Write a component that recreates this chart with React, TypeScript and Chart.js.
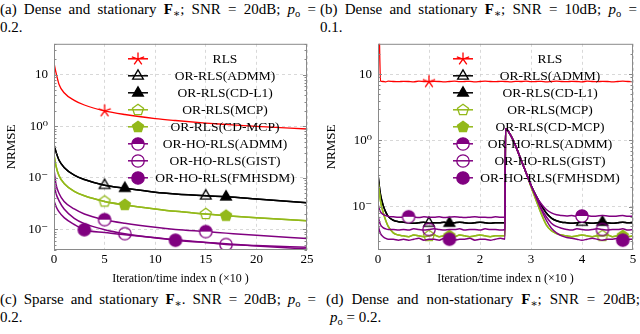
import React, { useEffect, useRef } from "react";
import { Chart, registerables } from "chart.js";
Chart.register(...registerables);

const FONT = "'Liberation Serif', 'DejaVu Serif', serif";

const seriesNames = [
  "RLS",
  "OR-RLS(ADMM)",
  "OR-RLS(CD-L1)",
  "OR-RLS(MCP)",
  "OR-RLS(CD-MCP)",
  "OR-HO-RLS(ADMM)",
  "OR-HO-RLS(GIST)",
  "OR-HO-RLS(FMHSDM)",
];
const seriesColors = ["#ff0000", "#000000", "#000000", "#93b91a", "#93b91a", "#800080", "#800080", "#800080"];
const markerKinds = ["star", "triangleOpen", "triangle", "pentagonOpen", "pentagon", "circleHalf", "circleOpen", "circle"];

// ---------- panel (a): dense and stationary, SNR 20dB ----------
const xA = [0, 0.2, 0.5, 1, 2, 3, 5, 7, 10, 12, 15, 17, 20, 25];
const xTicksStepA = 5;
const yTicksA = [0.01, 0.1, 1, 10];
const yLabelsA = ["10⁻", "10⁻", "10⁰", "10"];
const aRLS = [17, 11, 6.5, 4.5, 3.2, 2.6, 2.0, 1.7, 1.42, 1.3, 1.16, 1.09, 1.0, 0.89];
const aAdmm = [0.44, 0.32, 0.22, 0.16, 0.113, 0.093, 0.072, 0.063, 0.053, 0.049, 0.045, 0.043, 0.039, 0.033];
const aCdl1 = [0.44, 0.32, 0.22, 0.16, 0.113, 0.093, 0.072, 0.063, 0.053, 0.049, 0.045, 0.043, 0.039, 0.033];
const aMcp = [0.28, 0.17, 0.11, 0.078, 0.055, 0.045, 0.035, 0.03, 0.025, 0.0225, 0.02, 0.0185, 0.0168, 0.0148];
const aCdMcp = [0.28, 0.17, 0.11, 0.078, 0.055, 0.045, 0.035, 0.03, 0.025, 0.0225, 0.02, 0.0185, 0.0168, 0.0148];
const aHoAdmm = [0.146, 0.075, 0.05, 0.035, 0.025, 0.02, 0.0155, 0.0132, 0.011, 0.01, 0.0091, 0.0085, 0.0077, 0.0067];
const aGist = [0.079, 0.05, 0.036, 0.025, 0.0165, 0.013, 0.0099, 0.0083, 0.0069, 0.0063, 0.0056, 0.0051, 0.0049, 0.0045];
const aFmhsdm = [0.036, 0.028, 0.022, 0.017, 0.0125, 0.0099, 0.0087, 0.0079, 0.0069, 0.0062, 0.0056, 0.0053, 0.0048, 0.0042];
const aMarkers = [[5], [5, 15], [7, 17], [5, 15], [7, 17], [5, 15], [7, 17], [3, 12]];

// ---------- panel (b): dense and stationary, SNR 10dB ----------
const xB = [
  0, 0.02, 0.05, 0.1, 0.15, 0.2, 0.3, 0.4,
  0.5, 0.6, 0.7, 0.8, 0.9, 1.0, 1.1, 1.2, 1.3, 1.4,
  1.5, 1.6, 1.7, 1.8, 1.9, 2.0, 2.1, 2.2, 2.3, 2.4,
  2.49,
  2.5, 2.6, 2.7, 2.8, 2.9, 3.0, 3.1, 3.2, 3.3, 3.4, 3.5, 3.6, 3.7,
  3.8, 3.9, 4.0, 4.1, 4.2, 4.3, 4.4, 4.5, 4.6, 4.7, 4.8, 4.9, 5.0,
];
const xTicksStepB = 1;
const yTicksB = [0.1, 1, 10];
const yLabelsB = ["10⁻", "10⁰", "10"];
const bRLS = [
  100, 60, 7.9, 7.8, 7.7, 7.9, 7.8, 7.75,
  7.85, 7.8, 7.7, 7.9, 7.8, 7.75, 7.85, 7.8, 7.7, 7.8,
  7.9, 7.75, 7.8, 7.85, 7.7, 7.8, 7.9, 7.8, 7.75, 7.85,
  7.8,
  7.8, 7.7, 7.85, 7.8, 7.9, 7.75, 7.8, 7.85, 7.7, 7.8, 7.9, 7.8, 7.75,
  7.85, 7.8, 7.7, 7.9, 7.8, 7.75, 7.85, 7.8, 7.7, 7.8, 7.9, 7.8, 7.75,
];
const bAdmm = [
  0.31, 0.22, 0.15, 0.105, 0.083, 0.071, 0.062, 0.059,
  0.058, 0.057, 0.056, 0.057, 0.058, 0.056, 0.057, 0.057, 0.058, 0.056,
  0.057, 0.058, 0.057, 0.056, 0.057, 0.058, 0.057, 0.056, 0.057, 0.057,
  0.057,
  1.5, 1.2, 0.82, 0.52, 0.33, 0.21, 0.145, 0.105, 0.08, 0.067, 0.061, 0.058, 0.057,
  0.056, 0.057, 0.058, 0.057, 0.056, 0.057, 0.058, 0.057, 0.056, 0.057, 0.058, 0.057, 0.057,
];
const bCdl1 = [
  0.31, 0.22, 0.15, 0.105, 0.083, 0.071, 0.062, 0.059,
  0.058, 0.057, 0.056, 0.057, 0.058, 0.056, 0.057, 0.057, 0.058, 0.056,
  0.057, 0.058, 0.057, 0.056, 0.057, 0.058, 0.057, 0.056, 0.057, 0.057,
  0.057,
  1.5, 1.2, 0.82, 0.52, 0.33, 0.21, 0.145, 0.105, 0.08, 0.067, 0.061, 0.058, 0.057,
  0.056, 0.057, 0.058, 0.057, 0.056, 0.057, 0.058, 0.057, 0.056, 0.057, 0.058, 0.057, 0.057,
];
const bMcp = [
  0.25, 0.18, 0.12, 0.082, 0.062, 0.05, 0.04, 0.037,
  0.036, 0.035, 0.037, 0.036, 0.035, 0.036, 0.037, 0.035, 0.036, 0.036,
  0.035, 0.037, 0.036, 0.035, 0.036, 0.037, 0.036, 0.035, 0.036, 0.036,
  0.036,
  1.5, 1.2, 0.82, 0.52, 0.33, 0.2, 0.125, 0.078, 0.053, 0.043, 0.039, 0.037, 0.036,
  0.035, 0.036, 0.037, 0.036, 0.035, 0.036, 0.036, 0.037, 0.035, 0.036, 0.036, 0.035, 0.036,
];
const bCdMcp = [
  0.25, 0.18, 0.12, 0.082, 0.062, 0.05, 0.04, 0.037,
  0.036, 0.035, 0.037, 0.036, 0.035, 0.036, 0.037, 0.035, 0.036, 0.036,
  0.035, 0.037, 0.036, 0.035, 0.036, 0.037, 0.036, 0.035, 0.036, 0.036,
  0.036,
  1.5, 1.2, 0.82, 0.52, 0.33, 0.2, 0.125, 0.078, 0.053, 0.043, 0.039, 0.037, 0.036,
  0.035, 0.036, 0.037, 0.036, 0.035, 0.036, 0.036, 0.037, 0.035, 0.036, 0.036, 0.035, 0.036,
];
const bHoAdmm = [
  0.11, 0.095, 0.083, 0.076, 0.073, 0.071, 0.07, 0.069,
  0.069, 0.07, 0.069, 0.068, 0.07, 0.069, 0.069, 0.07, 0.068, 0.069,
  0.07, 0.069, 0.068, 0.069, 0.07, 0.069, 0.069, 0.068, 0.07, 0.069,
  0.069,
  1.5, 1.2, 0.82, 0.52, 0.33, 0.21, 0.145, 0.11, 0.09, 0.08, 0.075, 0.073, 0.072,
  0.073, 0.071, 0.072, 0.073, 0.071, 0.072, 0.073, 0.072, 0.071, 0.072, 0.073, 0.071, 0.072,
];
const bGist = [
  0.075, 0.062, 0.053, 0.048, 0.046, 0.045, 0.045, 0.044,
  0.045, 0.044, 0.046, 0.045, 0.044, 0.045, 0.046, 0.045, 0.044, 0.045,
  0.045, 0.046, 0.044, 0.045, 0.045, 0.044, 0.046, 0.045, 0.045, 0.044,
  0.045,
  1.5, 1.2, 0.82, 0.52, 0.33, 0.21, 0.14, 0.095, 0.07, 0.056, 0.05, 0.047, 0.045,
  0.044, 0.046, 0.045, 0.044, 0.045, 0.046, 0.045, 0.044, 0.045, 0.045, 0.046, 0.044, 0.045,
];
const bFmhsdm = [
  0.055, 0.046, 0.039, 0.035, 0.033, 0.032, 0.032, 0.031,
  0.032, 0.031, 0.032, 0.033, 0.031, 0.032, 0.032, 0.031, 0.033, 0.032,
  0.031, 0.032, 0.032, 0.033, 0.031, 0.032, 0.032, 0.031, 0.032, 0.033,
  0.032,
  1.5, 1.2, 0.82, 0.52, 0.33, 0.21, 0.14, 0.09, 0.062, 0.047, 0.04, 0.036, 0.034,
  0.033, 0.032, 0.031, 0.032, 0.033, 0.032, 0.031, 0.032, 0.032, 0.033, 0.031, 0.032, 0.032,
];
const bMarkers = [[1], [1, 4.0], [1.4, 4.4], [1, 4.4], [1.4, 4.8], [0.6, 4.0], [1, 4.4], [1.4, 4.8]];

function makeMarker(kind: string, color: string): HTMLCanvasElement {
  const S = 18;
  const c = document.createElement("canvas");
  c.width = S;
  c.height = S;
  const g = c.getContext("2d")!;
  const cx = S / 2;
  const cy = S / 2;
  g.lineWidth = 1.3;
  g.strokeStyle = color;
  g.fillStyle = color;
  const poly = (n: number, r: number) => {
    g.beginPath();
    for (let k = 0; k < n; k++) {
      const a = -Math.PI / 2 + (k * 2 * Math.PI) / n;
      const px = cx + r * Math.cos(a);
      const py = cy + r * Math.sin(a);
      if (k === 0) g.moveTo(px, py);
      else g.lineTo(px, py);
    }
    g.closePath();
  };
  const R = 6.2;
  if (kind === "star") {
    g.beginPath();
    for (let k = 0; k < 5; k++) {
      const a = -Math.PI / 2 + (k * 2 * Math.PI) / 5;
      g.moveTo(cx, cy);
      g.lineTo(cx + 6.5 * Math.cos(a), cy + 6.5 * Math.sin(a));
    }
    g.stroke();
  } else if (kind === "triangle" || kind === "triangleOpen") {
    poly(3, 6.2);
    if (kind === "triangle") g.fill();
    g.stroke();
  } else if (kind === "pentagon" || kind === "pentagonOpen") {
    poly(5, 5.8);
    if (kind === "pentagon") g.fill();
    g.stroke();
  } else if (kind === "circle") {
    g.beginPath();
    g.arc(cx, cy, R, 0, Math.PI * 2);
    g.fill();
    g.stroke();
  } else if (kind === "circleOpen") {
    g.beginPath();
    g.arc(cx, cy, R, 0, Math.PI * 2);
    g.stroke();
  } else if (kind === "circleHalf") {
    g.beginPath();
    g.arc(cx, cy, R, 0, Math.PI * 2);
    g.fillStyle = "#ffffff";
    g.fill();
    g.beginPath();
    g.arc(cx, cy, R, Math.PI, Math.PI * 2);
    g.closePath();
    g.fillStyle = color;
    g.fill();
    g.beginPath();
    g.arc(cx, cy, R, 0, Math.PI * 2);
    g.stroke();
  }
  return c;
}

type LegendCfg = { markerDx: number; textDx: number; rowTop: number; rowDy: number };

type PanelProps = {
  left: number;
  top: number;
  width: number;
  height: number;
  xs: number[];
  series: number[][];
  markers: number[][];
  xMax: number;
  xStep: number;
  yMin: number;
  yMax: number;
  yTicks: number[];
  yLabels: string[];
  yAxisWidth: number;
  padRight: number;
  legend: LegendCfg;
};

function Panel(p: PanelProps) {
  const ref = useRef<HTMLCanvasElement>(null);
  useEffect(() => {
    const canvas = ref.current!;
    const imgs = markerKinds.map((k, i) => makeMarker(k, seriesColors[i]));
    const datasets = p.series.map((vals, i) => ({
      label: seriesNames[i],
      data: p.xs.map((x, j) => ({ x, y: vals[j] })),
      borderColor: seriesColors[i],
      backgroundColor: seriesColors[i],
      borderWidth: i === 0 ? 1.3 : 1.5,
      cubicInterpolationMode: "monotone" as const,
      pointStyle: imgs[i],
      pointRadius: p.xs.map((x) => (p.markers[i].includes(x) ? 6 : 0)),
      pointHoverRadius: p.xs.map((x) => (p.markers[i].includes(x) ? 6 : 0)),
      fill: false,
      order: seriesNames.length - i,
    }));

    const framePlugin = {
      id: "frame",
      afterDatasetsDraw(chart: any) {
        const { ctx, chartArea: a, scales } = chart;
        const ys = scales.y;
        ctx.save();
        ctx.strokeStyle = "#8a8a8a";
        ctx.lineWidth = 1;
        ctx.beginPath();
        const lo = Math.floor(Math.log10(p.yMin));
        const hi = Math.ceil(Math.log10(p.yMax));
        for (let d = lo; d <= hi; d++) {
          for (let m = 1; m <= 9; m++) {
            const v = m * Math.pow(10, d);
            if (v < p.yMin || v > p.yMax) continue;
            const py = Math.round(ys.getPixelForValue(v)) + 0.5;
            const len = m === 1 ? 4 : 2.5;
            ctx.moveTo(a.left, py);
            ctx.lineTo(a.left + len, py);
            ctx.moveTo(a.right, py);
            ctx.lineTo(a.right - len, py);
          }
        }
        ctx.stroke();
        ctx.strokeRect(a.left + 0.5, a.top + 0.5, a.right - a.left - 1, a.bottom - a.top - 1);
        ctx.restore();
      },
    };

    const legendPlugin = {
      id: "insideLegend",
      afterDatasetsDraw(chart: any) {
        const { ctx, chartArea: a } = chart;
        ctx.save();
        ctx.font = `13.5px ${FONT}`;
        ctx.textAlign = "center";
        ctx.textBaseline = "middle";
        seriesNames.forEach((name, i) => {
          const y = a.top + p.legend.rowTop + i * p.legend.rowDy;
          const mx = a.left + p.legend.markerDx;
          ctx.strokeStyle = seriesColors[i];
          ctx.lineWidth = 1.5;
          ctx.beginPath();
          ctx.moveTo(mx - 10, y);
          ctx.lineTo(mx + 10, y);
          ctx.stroke();
          const img = imgs[i];
          ctx.drawImage(img, Math.round(mx - img.width / 2), Math.round(y - img.height / 2));
          ctx.fillStyle = "#000";
          ctx.fillText(name, a.left + p.legend.textDx, y + 1);
        });
        ctx.restore();
      },
    };

    const chart = new Chart(canvas, {
      type: "line",
      data: { datasets: datasets as any },
      plugins: [framePlugin, legendPlugin],
      options: {
        responsive: false,
        animation: false,
        events: [],
        layout: { padding: { top: 10, right: p.padRight, left: 0, bottom: 0 } },
        plugins: { legend: { display: false }, tooltip: { enabled: false } },
        scales: {
          x: {
            type: "linear",
            min: 0,
            max: p.xMax,
            ticks: { stepSize: p.xStep, color: "#000", font: { family: FONT, size: 13 }, padding: 2, maxRotation: 0 },
            grid: { color: "#cfcfcf", drawTicks: false, lineWidth: 0.8 },
            border: { display: false, dash: [3, 3] },
            title: {
              display: true,
              text: "Iteration/time index n (×10 )",
              color: "#000",
              font: { family: FONT, size: 12 },
              padding: { top: 0, bottom: 4 },
            },
            afterFit: (s: any) => {
              s.height = 40;
            },
          },
          y: {
            type: "logarithmic",
            min: p.yMin,
            max: p.yMax,
            afterBuildTicks: (s: any) => {
              s.ticks = p.yTicks.map((v) => ({ value: v }));
            },
            ticks: {
              autoSkip: false,
              color: "#000",
              font: { family: FONT, size: 13 },
              padding: 6,
              callback: (_v: any, i: number) => p.yLabels[i],
            },
            grid: { color: "#cfcfcf", drawTicks: false, lineWidth: 0.8 },
            border: { display: false, dash: [3, 3] },
            title: {
              display: true,
              text: "NRMSE",
              color: "#000",
              font: { family: FONT, size: 13 },
              padding: { top: 4, bottom: 0 },
            },
            afterFit: (s: any) => {
              s.width = p.yAxisWidth;
            },
          },
        },
      } as any,
    });
    return () => chart.destroy();
  }, []);
  return (
    <canvas
      ref={ref}
      width={p.width}
      height={p.height}
      style={{ position: "absolute", left: p.left, top: p.top, width: p.width, height: p.height }}
    />
  );
}

const subStyle: React.CSSProperties = { fontSize: "0.7em", verticalAlign: "-0.3em", lineHeight: 0 };

function Caption(props: { left: number; top: number; width: number; line1: React.ReactNode; line2: React.ReactNode; indent2?: number }) {
  return (
    <div style={{ position: "absolute", left: props.left, top: props.top, width: props.width, fontSize: 15, lineHeight: "17.5px", whiteSpace: "nowrap" }}>
      <div style={{ textAlign: "justify", textAlignLast: "justify" as any }}>{props.line1}</div>
      <div style={{ paddingLeft: props.indent2 || 0 }}>{props.line2}</div>
    </div>
  );
}

export default function App() {
  return (
    <div
      style={{
        position: "fixed",
        left: 0,
        top: 0,
        width: 640,
        height: 334,
        background: "#fff",
        overflow: "hidden",
        fontFamily: FONT,
        color: "#000",
      }}
    >
      <Caption
        left={0}
        top={1}
        width={316}
        line1={
          <>
            (a) Dense and stationary <b>F</b>
            <sub style={subStyle}>∗</sub>; SNR = 20dB; <i>p</i>
            <sub style={subStyle}>o</sub> =
          </>
        }
        line2={<>0.2.</>}
      />
      <Caption
        left={320}
        top={1}
        width={317}
        line1={
          <>
            (b) Dense and stationary <b>F</b>
            <sub style={subStyle}>∗</sub>; SNR = 10dB; <i>p</i>
            <sub style={subStyle}>o</sub> =
          </>
        }
        line2={<>0.1.</>}
      />
      <Panel
        left={0}
        top={30}
        width={320}
        height={260}
        xs={xA}
        series={[aRLS, aAdmm, aCdl1, aMcp, aCdMcp, aHoAdmm, aGist, aFmhsdm]}
        markers={aMarkers}
        xMax={25}
        xStep={xTicksStepA}
        yMin={0.004}
        yMax={40}
        yTicks={yTicksA}
        yLabels={yLabelsA}
        yAxisWidth={54}
        padRight={13}
        legend={{ markerDx: 84, textDx: 171, rowTop: 15, rowDy: 17 }}
      />
      <Panel
        left={320}
        top={30}
        width={320}
        height={260}
        xs={xB}
        series={[bRLS, bAdmm, bCdl1, bMcp, bCdMcp, bHoAdmm, bGist, bFmhsdm]}
        markers={bMarkers}
        xMax={5}
        xStep={xTicksStepB}
        yMin={0.022}
        yMax={29}
        yTicks={yTicksB}
        yLabels={yLabelsB}
        yAxisWidth={58}
        padRight={7}
        legend={{ markerDx: 85, textDx: 172, rowTop: 15, rowDy: 17 }}
      />
      <Caption
        left={0}
        top={291}
        width={316}
        line1={
          <>
            (c) Sparse and stationary <b>F</b>
            <sub style={subStyle}>∗</sub>. SNR = 20dB; <i>p</i>
            <sub style={subStyle}>o</sub> =
          </>
        }
        line2={<>0.2.</>}
      />
      <Caption
        left={326}
        top={291}
        width={314}
        indent2={4}
        line1={
          <>
            (d) Dense and non-stationary <b>F</b>
            <sub style={subStyle}>∗</sub>; SNR = 20dB;
          </>
        }
        line2={
          <>
            <i>p</i>
            <sub style={subStyle}>o</sub> = 0.2.
          </>
        }
      />
    </div>
  );
}
